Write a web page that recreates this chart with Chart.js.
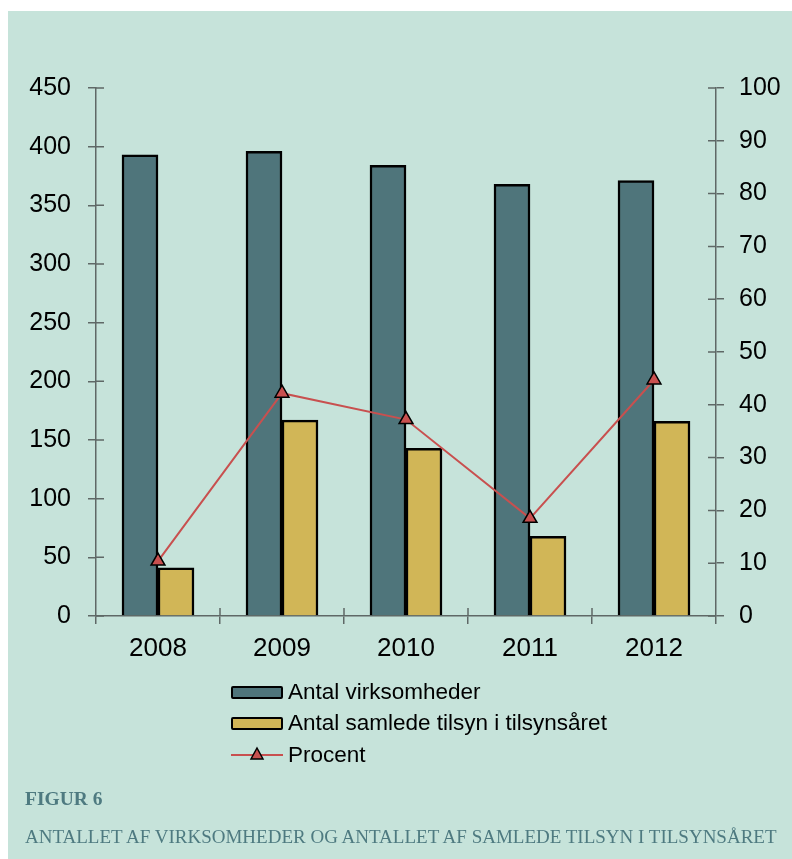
<!DOCTYPE html>
<html>
<head>
<meta charset="utf-8">
<script src="https://cdn.jsdelivr.net/npm/chart.js@4/dist/chart.umd.min.js"></script>
<style>
  html, body { margin: 0; padding: 0; background: #ffffff; }
  body { width: 792px; height: 859px; position: relative; overflow: hidden; }
  #bg { position: absolute; left: 8px; top: 11px; width: 784px; height: 848px; background: #c6e3da; }
  #wrap { position: absolute; left: 0; top: 0; width: 792px; height: 859px; }
  .leg { position: absolute; left: 231px; font-family: "Liberation Sans", Arial, sans-serif; font-size: 22.5px; color: #000; line-height: 24px; }
  .leg .box { position: absolute; left: 0; top: 6px; width: 48px; height: 9px; border: 2px solid #000; border-radius: 2px; }
  .leg .txt { position: absolute; left: 57px; top: 0; white-space: nowrap; }
  #cap1 { position: absolute; left: 25px; top: 788px; font-family: "Liberation Serif", "DejaVu Serif", serif; font-weight: bold; font-size: 19.5px; color: #4e7a80; white-space: nowrap; }
  #cap2 { position: absolute; left: 25px; top: 826px; font-family: "Liberation Serif", "DejaVu Serif", serif; font-size: 19px; color: #4e7a80; white-space: nowrap; }
</style>
</head>
<body>
<div id="bg"></div>
<div id="wrap"><canvas id="c" width="792" height="859"></canvas></div>
<div class="leg" style="top:680px"><div class="box" style="background:#4f757b"></div><div class="txt">Antal virksomheder</div></div>
<div class="leg" style="top:711px"><div class="box" style="background:#d1b657"></div><div class="txt">Antal samlede tilsyn i tilsynsåret</div></div>
<div class="leg" style="top:743px">
  <svg style="position:absolute;left:0;top:2px" width="54" height="20">
    <line x1="0" y1="10" x2="52" y2="10" stroke="#c8504f" stroke-width="2"/>
    <polygon points="26,3 32,14 20,14" fill="#c8504f" stroke="#000" stroke-width="1.5"/>
  </svg>
  <div class="txt">Procent</div>
</div>
<div id="cap1">FIGUR 6</div>
<div id="cap2">ANTALLET AF VIRKSOMHEDER OG ANTALLET AF SAMLEDE TILSYN I TILSYNSÅRET</div>
<script>
const categories = ['2008', '2009', '2010', '2011', '2012'];
const antalVirksomheder = [393, 396, 384, 368, 371];
const antalTilsyn = [41, 167, 143, 68, 166];
const procent = [10.4, 42.2, 37.2, 18.5, 44.7];
const leftTicks = [0, 50, 100, 150, 200, 250, 300, 350, 400, 450];
const rightTicks = [0, 10, 20, 30, 40, 50, 60, 70, 80, 90, 100];

const AXIS = '#5f6866';
const FONT_Y = { family: '"Liberation Sans", Arial, sans-serif', size: 25 };
const FONT_X = { family: '"Liberation Sans", Arial, sans-serif', size: 26 };

const innerTicks = {
  id: 'innerTicks',
  afterDraw(chart) {
    const ctx = chart.ctx;
    const xs = chart.scales.x, yl = chart.scales.y, yr = chart.scales.y1;
    ctx.save();
    ctx.strokeStyle = AXIS;
    ctx.lineWidth = 1.5;
    ctx.beginPath();
    leftTicks.forEach(v => { const p = yl.getPixelForValue(v); ctx.moveTo(yl.right, p); ctx.lineTo(yl.right + 8, p); });
    rightTicks.forEach(v => { const p = yr.getPixelForValue(v); ctx.moveTo(yr.left, p); ctx.lineTo(yr.left - 8, p); });
    for (let i = 0; i < categories.length - 1; i++) {
      const p = (xs.getPixelForValue(i) + xs.getPixelForValue(i + 1)) / 2;
      ctx.moveTo(p, xs.top); ctx.lineTo(p, xs.top - 8);
    }
    ctx.stroke();
    ctx.restore();
  }
};

new Chart(document.getElementById('c'), {
  data: {
    labels: categories,
    datasets: [
      { type: 'line', label: 'Procent', data: procent, yAxisID: 'y1', order: 0,
        borderColor: '#c8504f', borderWidth: 2, tension: 0,
        pointStyle: 'triangle', pointRadius: 8, pointBackgroundColor: '#c8504f',
        pointBorderColor: '#000', pointBorderWidth: 1.5 },
      { type: 'bar', label: 'Antal virksomheder', data: antalVirksomheder, yAxisID: 'y', order: 1,
        backgroundColor: '#4f757b', borderColor: '#000', borderWidth: 2.5, barThickness: 36 },
      { type: 'bar', label: 'Antal samlede tilsyn i tilsynsåret', data: antalTilsyn, yAxisID: 'y', order: 1,
        backgroundColor: '#d1b657', borderColor: '#000', borderWidth: 2.5, barThickness: 36 }
    ]
  },
  options: {
    responsive: false,
    animation: false,
    layout: { padding: { left: 10, right: 0, top: 88, bottom: 183 } },
    plugins: { legend: { display: false }, tooltip: { enabled: false } },
    scales: {
      x: {
        type: 'category', offset: true,
        grid: { offset: true, drawOnChartArea: false, tickLength: 8, color: AXIS, lineWidth: 1.5 },
        border: { color: AXIS, width: 1.5 },
        ticks: { font: FONT_X, color: '#000', padding: 9, maxRotation: 0 },
        afterFit(s) { s.height = 60; }
      },
      y: {
        position: 'left', min: 0, max: 450,
        afterBuildTicks(s) { s.ticks = leftTicks.map(v => ({ value: v })); },
        grid: { drawOnChartArea: false, tickLength: 8, color: AXIS, lineWidth: 1.5 },
        border: { color: AXIS, width: 1.5 },
        ticks: { font: FONT_Y, color: '#000', padding: 17 },
        afterFit(s) { s.width = 86; }
      },
      y1: {
        position: 'right', min: 0, max: 100,
        afterBuildTicks(s) { s.ticks = rightTicks.map(v => ({ value: v })); },
        grid: { drawOnChartArea: false, tickLength: 8, color: AXIS, lineWidth: 1.5 },
        border: { color: AXIS, width: 1.5 },
        ticks: { font: FONT_Y, color: '#000', padding: 15 },
        afterFit(s) { s.width = 76; }
      }
    }
  },
  plugins: [innerTicks]
});
</script>
</body>
</html>
